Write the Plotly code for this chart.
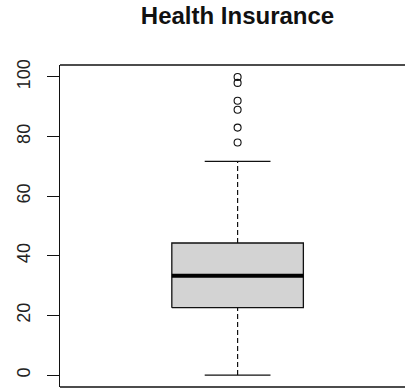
import plotly.graph_objects as go

# Five-number summary and outliers for the health insurance coverage variable
category = ["Health Insurance"]
lower_whisker = [0.0]
q1 = [22.6]
median = [33.3]
q3 = [44.3]
upper_whisker = [71.7]
outliers = [78, 83, 89, 92, 98, 100]
y_ticks = [0, 20, 40, 60, 80, 100]

pos = 1.0          # box position on the x axis
half_box = 0.2     # half width of the box
half_cap = 0.1     # half width of the whisker staples

line_col = "#111111"
fig = go.Figure()

# box body (Q1..Q3), light grey fill
fig.add_trace(go.Scatter(
    x=[pos - half_box, pos + half_box, pos + half_box, pos - half_box, pos - half_box],
    y=[q1[0], q1[0], q3[0], q3[0], q1[0]],
    mode="lines", fill="toself", fillcolor="#d3d3d3",
    line=dict(color=line_col, width=1.3), hoverinfo="skip", showlegend=False))

# thick median bar
fig.add_trace(go.Scatter(
    x=[pos - half_box, pos + half_box], y=[median[0], median[0]],
    mode="lines", line=dict(color="black", width=4), showlegend=False))

# dashed whiskers
for a, b in [(q3[0], upper_whisker[0]), (lower_whisker[0], q1[0])]:
    fig.add_trace(go.Scatter(
        x=[pos, pos], y=[a, b], mode="lines",
        line=dict(color=line_col, width=1.2, dash="5px,3px"), showlegend=False))

# whisker staples
for v in [upper_whisker[0], lower_whisker[0]]:
    fig.add_trace(go.Scatter(
        x=[pos - half_cap, pos + half_cap], y=[v, v], mode="lines",
        line=dict(color=line_col, width=1.3), showlegend=False))

# outlying points
fig.add_trace(go.Scatter(
    x=[pos] * len(outliers), y=outliers, mode="markers",
    marker=dict(symbol="circle-open", size=7, color=line_col, line=dict(width=1.1)),
    showlegend=False))

# top and bottom edges of the frame (the right edge falls outside the page)
for yy in (0, 1):
    fig.add_shape(type="line", xref="paper", yref="paper", x0=0, x1=1, y0=yy, y1=yy,
                  layer="above", line=dict(color=line_col, width=1.3))

fig.update_layout(
    template="none",
    width=405, height=389,
    margin=dict(l=60, r=0, t=65, b=2),
    paper_bgcolor="white", plot_bgcolor="white",
    font=dict(family="Liberation Sans, Arial, sans-serif", color="#222222"),
    title=dict(text="<b>" + category[0] + "</b>", x=237.5 / 405, xref="container",
               xanchor="center", y=1 - 16 / 389, yref="container", yanchor="middle",
               font=dict(size=24, color="#111111")),
    xaxis=dict(range=[0.46, 1.509], visible=False, showline=False, showticklabels=False,
               ticks="", showgrid=False, zeroline=False),
    yaxis=dict(range=[-4, 104], showline=True, mirror=False, linecolor=line_col,
               linewidth=1.3, tickvals=y_ticks, ticktext=[str(v) for v in y_ticks],
               ticks="outside", ticklen=12, tickwidth=1.2, tickcolor=line_col,
               tickangle=-90, ticklabelstandoff=10, tickfont=dict(size=18),
               showgrid=False, zeroline=False, automargin=False),
)

fig.write_html("out.html")
